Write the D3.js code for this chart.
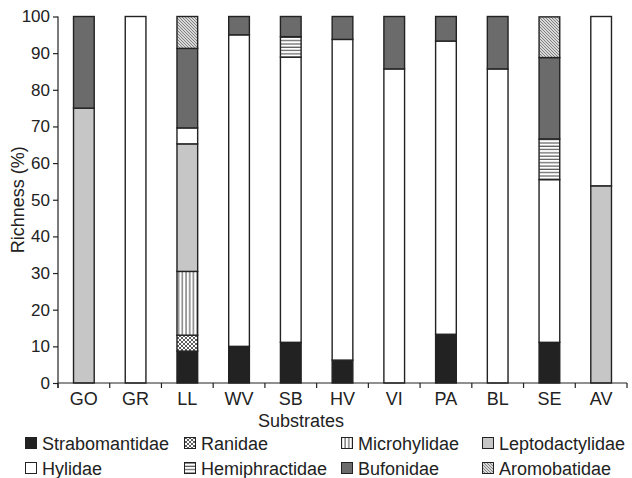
<!DOCTYPE html>
<html>
<head>
<meta charset="utf-8">
<script src="https://cdn.jsdelivr.net/npm/d3@7"></script>
<style>
  html, body { margin: 0; padding: 0; background: #fff; }
  svg { display: block; font-family: "Liberation Sans", Arial, sans-serif; }
</style>
</head>
<body>
<svg id="chart" width="632" height="478"></svg>
<script>
const categories = ["GO", "GR", "LL", "WV", "SB", "HV", "VI", "PA", "BL", "SE", "AV"];
const families = ["Strabomantidae", "Ranidae", "Microhylidae", "Leptodactylidae",
                  "Hylidae", "Hemiphractidae", "Bufonidae", "Aromobatidae"];
const strabomantidae  = [0, 0, 8.7, 10, 11.1, 6.25, 0, 13.3, 0, 11.1, 0];
const ranidae         = [0, 0, 4.35, 0, 0, 0, 0, 0, 0, 0, 0];
const microhylidae    = [0, 0, 17.4, 0, 0, 0, 0, 0, 0, 0, 0];
const leptodactylidae = [75, 0, 34.8, 0, 0, 0, 0, 0, 0, 0, 53.8];
const hylidae         = [0, 100, 4.35, 85, 77.8, 87.5, 85.7, 80, 85.7, 44.4, 46.2];
const hemiphractidae  = [0, 0, 0, 0, 5.6, 0, 0, 0, 0, 11.1, 0];
const bufonidae       = [25, 0, 21.7, 5, 5.5, 6.25, 14.3, 6.7, 14.3, 22.2, 0];
const aromobatidae    = [0, 0, 8.7, 0, 0, 0, 0, 0, 0, 11.1, 0];
const yTicks = [0, 10, 20, 30, 40, 50, 60, 70, 80, 90, 100];

(function () {
const seriesValues = {
  "Strabomantidae": strabomantidae, "Ranidae": ranidae, "Microhylidae": microhylidae,
  "Leptodactylidae": leptodactylidae, "Hylidae": hylidae, "Hemiphractidae": hemiphractidae,
  "Bufonidae": bufonidae, "Aromobatidae": aromobatidae
};
const rows = categories.map((c, i) => {
  const r = { cat: c };
  families.forEach(f => r[f] = seriesValues[f][i]);
  return r;
});

const svg = d3.select("#chart");
const pL = 58, pR = 627, pT = 16.5, pB = 383;

// patterns
const defs = svg.append("defs");
function pat(id, w, h, draw) {
  const p = defs.append("pattern").attr("id", id).attr("patternUnits", "userSpaceOnUse")
    .attr("width", w).attr("height", h);
  p.append("rect").attr("width", w).attr("height", h).attr("fill", "#fff");
  draw(p);
}
pat("p-ranidae", 4, 4, p => {
  p.append("path").attr("d", "M0,0 L4,4 M4,0 L0,4").attr("stroke", "#333").attr("stroke-width", 0.8);
});
pat("p-micro", 3.7, 4, p => {
  p.append("line").attr("x1", 1).attr("x2", 1).attr("y1", 0).attr("y2", 4)
    .attr("stroke", "#222").attr("stroke-width", 0.9);
});
pat("p-hemi", 4, 3.3, p => {
  p.append("line").attr("x1", 0).attr("x2", 4).attr("y1", 1).attr("y2", 1)
    .attr("stroke", "#222").attr("stroke-width", 0.9);
});
pat("p-arom", 3, 3, p => {
  p.append("rect").attr("width", 3).attr("height", 3).attr("fill", "#d8d8d8");
  p.append("path").attr("d", "M0,0 L3,3 M-1,2 L1,4 M2,-1 L4,1").attr("stroke", "#777").attr("stroke-width", 0.9);
});

const fills = {
  "Strabomantidae": "#222222",
  "Ranidae": "url(#p-ranidae)",
  "Microhylidae": "url(#p-micro)",
  "Leptodactylidae": "#c6c6c6",
  "Hylidae": "#ffffff",
  "Hemiphractidae": "url(#p-hemi)",
  "Bufonidae": "#6b6b6b",
  "Aromobatidae": "url(#p-arom)"
};

const x = d3.scaleBand().domain(categories).range([pL, pR]).paddingInner(0.6).paddingOuter(0.3);
const y = d3.scaleLinear().domain([0, 100]).range([pB, pT]);

const series = d3.stack().keys(families)(rows);

const g = svg.append("g");
series.forEach(s => {
  g.selectAll(null).data(s.filter(d => d[1] - d[0] > 0)).enter().append("rect")
    .attr("x", d => x(d.data.cat))
    .attr("width", x.bandwidth())
    .attr("y", d => y(d[1]))
    .attr("height", d => y(d[0]) - y(d[1]))
    .attr("fill", fills[s.key])
    .attr("stroke", "#222")
    .attr("stroke-width", 1.4);
});

// y axis
const yAxis = d3.axisLeft(y).tickValues(yTicks).tickSize(5).tickPadding(3).tickFormat(d3.format("d"));
const ya = svg.append("g").attr("transform", `translate(${pL},0)`).call(yAxis);
ya.select(".domain").attr("d", `M0,${pT}V${pB + 5}`).attr("stroke", "#222").attr("stroke-width", 1.2);
ya.selectAll(".tick line").attr("stroke", "#222").attr("stroke-width", 1.2);
ya.selectAll(".tick text").attr("font-size", 17).attr("fill", "#222")
  .attr("font-family", "Liberation Sans, Arial, sans-serif");

// x axis: ticks at band boundaries, labels at centers
const bounds = d3.range(categories.length + 1).map(i => pL + i * (pR - pL) / categories.length);
const xa = svg.append("g");
xa.append("line").attr("x1", pL).attr("x2", pR).attr("y1", pB).attr("y2", pB)
  .attr("stroke", "#222").attr("stroke-width", 1.2);
xa.selectAll("line.t").data(bounds).enter().append("line").attr("class", "t")
  .attr("x1", d => d).attr("x2", d => d).attr("y1", pB).attr("y2", pB + 5)
  .attr("stroke", "#222").attr("stroke-width", 1.2);
xa.selectAll("text").data(categories).enter().append("text")
  .attr("x", d => x(d) + x.bandwidth() / 2)
  .attr("y", 405)
  .attr("text-anchor", "middle")
  .attr("font-size", 18).attr("fill", "#222")
  .text(d => d);

// axis titles
svg.append("text").attr("x", 301).attr("y", 426.5).attr("text-anchor", "middle")
  .attr("font-size", 18).attr("fill", "#222").text("Substrates");
svg.append("text").attr("transform", `translate(24,${(pT + pB) / 2}) rotate(-90)`)
  .attr("text-anchor", "middle").attr("font-size", 18).attr("fill", "#222").text("Richness (%)");

// legend
const legX = [25, 184, 341, 482];
const legY = [443, 468];
const lg = svg.append("g");
families.forEach((f, i) => {
  const col = i % 4, row = Math.floor(i / 4);
  const sx = legX[col], cy = legY[row];
  lg.append("rect").attr("x", sx + 0.5).attr("y", cy - 5.5).attr("width", 11).attr("height", 11)
    .attr("fill", fills[f]).attr("stroke", "#222").attr("stroke-width", 1);
  lg.append("text").attr("x", sx + 17).attr("y", cy + 6.5).attr("font-size", 18)
    .attr("fill", "#222").text(f);
});
})();
</script>
</body>
</html>
